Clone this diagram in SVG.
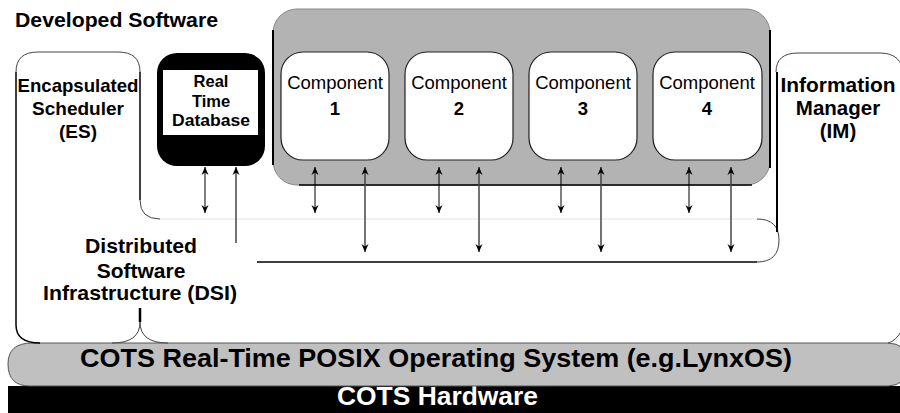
<svg xmlns="http://www.w3.org/2000/svg" width="900" height="413" viewBox="0 0 900 413">
<defs>
<style>
text{font-family:"Liberation Sans",Arial,sans-serif;fill:#000}
.b{font-weight:bold}
.t18{font-size:18.5px}
.comp{fill:#fff;stroke:#222;stroke-width:1.2}
.out{fill:none;stroke:#000;stroke-width:1.5}
.thin{fill:none;stroke:#444;stroke-width:1}
.sa{stroke:#000;stroke-width:1;fill:none}
.la{stroke:#444;stroke-width:1.5;fill:none}
</style>
<marker id="ah" viewBox="0 0 8 8" refX="8" refY="4" markerWidth="8" markerHeight="8" markerUnits="userSpaceOnUse" orient="auto-start-reverse">
<path d="M0,0.5 L8,4 L0,7.5 L2.5,4 z" fill="#000"/>
</marker>
</defs>

<text class="b" x="15" y="27" font-size="21" textLength="203" lengthAdjust="spacingAndGlyphs">Developed Software</text>

<g id="hardware">
<rect x="8" y="386" width="892" height="27" fill="#000"/>
<text class="b" x="337" y="405" font-size="26" style="fill:#fff" textLength="201" lengthAdjust="spacingAndGlyphs">COTS Hardware</text>
</g>

<g id="os">
<path d="M32,343 L888,343 Q905,343 915,364 Q905,386 888,386 L30,386 Q8,386 8,364 Q8,343 32,343 z" fill="#c0c0c0" stroke="#555" stroke-width="1"/>
<text class="b" x="80" y="367" font-size="26" textLength="712" lengthAdjust="spacingAndGlyphs">COTS Real-Time POSIX Operating System (e.g.LynxOS)</text>
</g>

<g id="es">
<path class="thin" d="M16,72 Q16,52 38,52 L118,52 Q140,52 140,72"/>
<path class="out" d="M16,72 L16,325 Q16,343 40,343"/>
<path class="out" d="M140,72 L140,200"/>
<text class="b" x="78" y="92" font-size="19" text-anchor="middle" textLength="121" lengthAdjust="spacingAndGlyphs">Encapsulated</text>
<text class="b" x="78" y="115" font-size="19" text-anchor="middle">Scheduler</text>
<text class="b" x="78" y="138" font-size="19" text-anchor="middle">(ES)</text>
</g>

<g id="dsi">
<path class="thin" d="M140,200 Q140,219 160,219"/>
<line x1="160" y1="219" x2="757" y2="219" stroke="#e4e4e4" stroke-width="1"/>
<path class="thin" d="M757,219 Q779,219 779,240 Q779,262 757,262"/>
<line x1="257" y1="262" x2="757" y2="262" stroke="#000" stroke-width="1.5"/>
<line x1="140" y1="308" x2="140" y2="322" stroke="#000" stroke-width="2.5"/>
<path class="thin" d="M140,322 Q140,343 112,343 M140,322 Q140,343 168,343"/>
<path class="thin" d="M888,343 Q896,341 902,330"/>
<text class="b" x="141" y="253" font-size="21" text-anchor="middle" textLength="112" lengthAdjust="spacingAndGlyphs">Distributed</text>
<text class="b" x="141" y="278" font-size="21" text-anchor="middle">Software</text>
<text class="b" x="140" y="300" font-size="21" text-anchor="middle" textLength="194" lengthAdjust="spacingAndGlyphs">Infrastructure (DSI)</text>
</g>

<g id="rtdb">
<rect x="157" y="53" width="108" height="113" rx="20" fill="#000"/>
<rect x="163" y="70" width="95" height="65" fill="#fff"/>
<text class="b" x="211" y="87" font-size="16.5" text-anchor="middle">Real</text>
<text class="b" x="211" y="106.5" font-size="16.5" text-anchor="middle">Time</text>
<text class="b" x="211" y="126" font-size="16.5" text-anchor="middle" textLength="78" lengthAdjust="spacingAndGlyphs">Database</text>
</g>

<g id="container">
<rect x="273" y="9" width="497" height="176" rx="24" fill="#b3b3b3" stroke="#888" stroke-width="1"/>
<line x1="273" y1="30" x2="273" y2="165" stroke="#000" stroke-width="2"/>
<line x1="770" y1="30" x2="770" y2="168" stroke="#000" stroke-width="2"/>
<line x1="299" y1="185" x2="752" y2="185" stroke="#000" stroke-width="1.5"/>
</g>

<g id="component1">
<rect class="comp" x="281" y="52" width="108" height="108" rx="22"/>
<text class="t18" x="335" y="89" text-anchor="middle">Component</text>
<text class="b t18" x="335" y="115" text-anchor="middle">1</text>
</g>
<g id="component2">
<rect class="comp" x="405" y="52" width="108" height="108" rx="22"/>
<text class="t18" x="459" y="89" text-anchor="middle">Component</text>
<text class="b t18" x="459" y="115" text-anchor="middle">2</text>
</g>
<g id="component3">
<rect class="comp" x="529" y="52" width="108" height="108" rx="22"/>
<text class="t18" x="583" y="89" text-anchor="middle">Component</text>
<text class="b t18" x="583" y="115" text-anchor="middle">3</text>
</g>
<g id="component4">
<rect class="comp" x="653" y="52" width="109" height="108" rx="22"/>
<text class="t18" x="707" y="89" text-anchor="middle">Component</text>
<text class="b t18" x="707" y="115" text-anchor="middle">4</text>
</g>

<g id="im">
<path class="thin" d="M776,72 Q776,53 798,53 L880,53 Q902,53 904,75"/>
<line x1="777" y1="72" x2="777" y2="232" stroke="#000" stroke-width="2"/>
<text class="b" x="838" y="92" font-size="20.5" text-anchor="middle" textLength="115" lengthAdjust="spacingAndGlyphs">Information</text>
<text class="b" x="838" y="115" font-size="20.5" text-anchor="middle">Manager</text>
<text class="b" x="838" y="138" font-size="20.5" text-anchor="middle">(IM)</text>
</g>

<g id="connectors">
<line class="sa" x1="205" y1="167" x2="205" y2="213" marker-start="url(#ah)" marker-end="url(#ah)"/>
<line class="la" x1="236" y1="243" x2="236" y2="167" marker-end="url(#ah)"/>
<line class="sa" x1="315" y1="167" x2="315" y2="213" marker-start="url(#ah)" marker-end="url(#ah)"/>
<line class="la" x1="365" y1="167" x2="365" y2="252" marker-start="url(#ah)" marker-end="url(#ah)"/>
<line class="sa" x1="439" y1="167" x2="439" y2="213" marker-start="url(#ah)" marker-end="url(#ah)"/>
<line class="la" x1="479" y1="167" x2="479" y2="252" marker-start="url(#ah)" marker-end="url(#ah)"/>
<line class="sa" x1="561" y1="167" x2="561" y2="213" marker-start="url(#ah)" marker-end="url(#ah)"/>
<line class="la" x1="601" y1="167" x2="601" y2="252" marker-start="url(#ah)" marker-end="url(#ah)"/>
<line class="sa" x1="689" y1="167" x2="689" y2="213" marker-start="url(#ah)" marker-end="url(#ah)"/>
<line class="la" x1="731" y1="167" x2="731" y2="252" marker-start="url(#ah)" marker-end="url(#ah)"/>
</g>
</svg>
